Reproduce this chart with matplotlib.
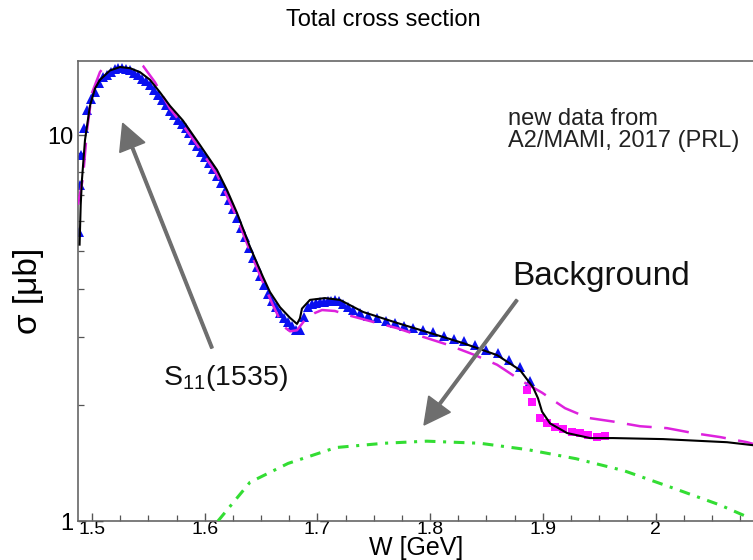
import matplotlib
matplotlib.use("Agg")
import matplotlib.pyplot as plt
from matplotlib.ticker import MultipleLocator, FuncFormatter, LogLocator, NullFormatter, FixedLocator
from matplotlib.patches import FancyArrow
from matplotlib.transforms import IdentityTransform

plt.rcParams['mathtext.fontset'] = 'custom'
plt.rcParams['mathtext.rm'] = 'Liberation Sans'

SANS = ['Liberation Sans', 'DejaVu Sans']

# ---- data: total cross section sigma [mub] vs W [GeV] ----
# A2/MAMI 2017 data (triangles)
w_a2 = [1.4885, 1.4893, 1.4903, 1.4925, 1.4955, 1.4990, 1.5025, 1.5060, 1.5095, 1.5130,
        1.5165, 1.5200, 1.5235, 1.5270, 1.5305, 1.5340, 1.5375, 1.5410, 1.5445, 1.5480,
        1.5515, 1.5550, 1.5585, 1.5620, 1.5655, 1.5690, 1.5725, 1.5760, 1.5795, 1.5830,
        1.5865, 1.5900, 1.5935, 1.5970, 1.6005, 1.6040, 1.6075, 1.6110, 1.6145, 1.6180,
        1.6215, 1.6250, 1.6285, 1.6320, 1.6355, 1.6390, 1.6425, 1.6460, 1.6495, 1.6530,
        1.6565, 1.6600, 1.6635, 1.6670, 1.6705, 1.6740, 1.6775, 1.6810, 1.6845, 1.6880,
        1.6915, 1.6950, 1.6985, 1.7020, 1.7055, 1.7090, 1.7125, 1.7160, 1.7195, 1.7230,
        1.7270, 1.7320, 1.7380, 1.7450, 1.7530, 1.7610, 1.7690, 1.7770, 1.7850, 1.7940,
        1.8030, 1.8120, 1.8210, 1.8300, 1.8400, 1.8500, 1.8600, 1.8700, 1.8800, 1.8890]
s_a2 = [5.6, 7.4, 8.9, 10.4, 11.6, 12.4, 12.9, 13.6, 14.1, 14.3,
        14.6, 14.8, 14.9, 14.9, 14.8, 14.7, 14.5, 14.3, 14.0, 13.8,
        13.5, 13.1, 12.7, 12.35, 11.95, 11.55, 11.25, 10.95, 10.65, 10.4,
        10.1, 9.7, 9.35, 9.05, 8.75, 8.45, 8.15, 7.85, 7.5, 7.15,
        6.8, 6.45, 6.1, 5.75, 5.45, 5.1, 4.8, 4.55, 4.3, 4.08,
        3.88, 3.72, 3.58, 3.45, 3.35, 3.28, 3.2, 3.12, 3.12, 3.38,
        3.58, 3.64, 3.68, 3.7, 3.7, 3.72, 3.72, 3.74, 3.72, 3.66,
        3.58, 3.52, 3.45, 3.4, 3.36, 3.3, 3.25, 3.2, 3.16, 3.12,
        3.08, 3.02, 2.97, 2.92, 2.86, 2.78, 2.72, 2.62, 2.5, 2.3]

# higher-energy data (squares)
w_hi = [1.8860, 1.8904, 1.8975, 1.9037, 1.9108, 1.9180, 1.9260, 1.9330, 1.9400, 1.9480, 1.9550]
s_hi = [2.18, 2.03, 1.85, 1.79, 1.75, 1.73, 1.70, 1.69, 1.67, 1.65, 1.66]

# full model (solid)
w_fit = [1.4890, 1.4900, 1.4911, 1.4938, 1.4982, 1.5027, 1.5071, 1.5160, 1.5248, 1.5337,
         1.5426, 1.5515, 1.5603, 1.5692, 1.5807, 1.5958, 1.6109, 1.6198, 1.6287, 1.6402,
         1.6517, 1.6579, 1.6668, 1.6757, 1.6819, 1.6845, 1.6863, 1.6934, 1.7067, 1.7200,
         1.7405, 1.7706, 1.8000, 1.8292, 1.8594, 1.8798, 1.8913, 1.8957, 1.8993, 1.9064,
         1.9215, 1.9419, 1.9623, 2.0067, 2.0634, 2.0880]
s_fit = [5.2, 6.6, 7.65, 9.7, 11.9, 13.2, 13.9, 14.7, 15.0, 14.9,
         14.55, 13.9, 12.9, 11.9, 10.9, 9.42, 8.12, 7.2, 6.28, 5.13,
         4.29, 3.92, 3.58, 3.36, 3.24, 3.35, 3.55, 3.74, 3.78, 3.74,
         3.48, 3.26, 3.07, 2.89, 2.69, 2.46, 2.22, 2.08, 1.92, 1.79,
         1.69, 1.64, 1.64, 1.63, 1.60, 1.57]

# earlier model (dashed)
w_old = [1.4876, 1.4920, 1.4956, 1.5000, 1.5071, 1.5160, 1.5266, 1.5355, 1.5453, 1.5559,
         1.5692, 1.5807, 1.5958, 1.6109, 1.6287, 1.6402, 1.6517, 1.6610, 1.6695, 1.6757,
         1.6819, 1.6890, 1.6979, 1.7041, 1.7156, 1.7263, 1.7493, 1.7706, 1.7937, 1.8159,
         1.8398, 1.8594, 1.8798, 1.8993, 1.9197, 1.9401, 1.9623, 1.9862, 2.0102, 2.0333,
         2.0572, 2.0812, 2.0880]
s_old = [6.6, 7.74, 10.3, 12.85, 14.56, 15.64, 16.1, 15.9, 15.1, 13.7,
         11.7, 10.6, 9.2, 7.9, 6.1, 5.0, 4.15, 3.6, 3.2, 3.1,
         3.12, 3.32, 3.46, 3.52, 3.50, 3.42, 3.28, 3.16, 3.0, 2.86,
         2.69, 2.54, 2.32, 2.15, 1.96, 1.85, 1.81, 1.76, 1.74, 1.69,
         1.65, 1.60, 1.58]

# background contribution (dash-dot)
w_bg = [1.6118, 1.6402, 1.6740, 1.7165, 1.7590, 1.7970, 1.8443, 1.8869, 1.9295, 1.9720,
        2.0146, 2.0572, 2.0830]
s_bg = [1.0, 1.26, 1.41, 1.55, 1.59, 1.61, 1.59, 1.53, 1.45, 1.35,
        1.22, 1.10, 1.02]

x_ticks = [1.5, 1.6, 1.7, 1.8, 1.9, 2.0]
y_ticks = [1, 10]

W_PX, H_PX = 753, 560
fig = plt.figure(figsize=(W_PX / 100, H_PX / 100), dpi=100)
ax = fig.add_axes([78 / W_PX, 1 - 521 / H_PX, (754.5 - 78) / W_PX, 460 / H_PX])

ax.plot(w_a2, s_a2, ls='none', marker='^', ms=6.5, color='#0a10f0', mew=0, zorder=2)
ax.plot(w_hi, s_hi, ls='none', marker='s', ms=6, color='#ff10ff', mew=0, zorder=2)
ax.plot(w_old, s_old, color='#dd22dd', lw=1.8, dashes=(10, 5), zorder=3)
ax.plot(w_fit, s_fit, color='black', lw=1.5, zorder=4)
ax.plot(w_bg, s_bg, color='#33dd33', lw=2.2, dashes=(3.5, 2.5, 1, 2.5), zorder=4)

ax.set_yscale('log')
ax.set_xlim(1.4876, 2.0878)
ax.set_ylim(1, 15.55)

ax.xaxis.set_major_locator(FixedLocator(x_ticks))
ax.xaxis.set_minor_locator(MultipleLocator(0.025))
ax.xaxis.set_major_formatter(FuncFormatter(lambda v, p: '%g' % v))
ax.yaxis.set_major_locator(FixedLocator(y_ticks))
ax.yaxis.set_minor_locator(LogLocator(base=10, subs=range(2, 10)))
ax.yaxis.set_major_formatter(FuncFormatter(lambda v, p: '%g' % v))
ax.yaxis.set_minor_formatter(NullFormatter())

ax.tick_params(which='both', direction='in', color='#555555', top=False, right=False)
ax.tick_params(which='major', length=6, width=1.0)
ax.tick_params(which='minor', length=4, width=0.9)
ax.tick_params(axis='x', which='major', pad=0)
ax.tick_params(axis='y', which='major', pad=3)
for lab in ax.get_xticklabels():
    lab.set_family(SANS)
    lab.set_fontsize(14)
for lab in ax.get_yticklabels():
    lab.set_family(SANS)
    lab.set_fontsize(17)
for sp in ax.spines.values():
    sp.set_color('#666666')
    sp.set_linewidth(1.2)
ax.spines['right'].set_visible(False)

fig.text(383 / W_PX, 1 - 20 / H_PX, 'Total cross section', ha='center', va='center',
         family=SANS, fontsize=17)
fig.text(416 / W_PX, 1 - 555.5 / H_PX, 'W [GeV]', ha='center', va='baseline',
         family=SANS, fontsize=18)
fig.text(28 / W_PX, 1 - 291 / H_PX, 'σ [μb]', ha='center', va='center', rotation=90,
         family=SANS, fontsize=24)

fig.text(508 / W_PX, 1 - 125 / H_PX, 'new data from', ha='left', va='baseline',
         family=SANS, fontsize=17, color='#222222')
fig.text(508 / W_PX, 1 - 147 / H_PX, 'A2/MAMI, 2017 (PRL)', ha='left', va='baseline',
         family=SANS, fontsize=17, color='#222222')
fig.text(512 / W_PX, 1 - 285 / H_PX, 'Background', ha='left', va='baseline',
         family=SANS, fontsize=24, color='#111111')
fig.text(163 / W_PX, 1 - 385 / H_PX, r'S$_{\mathregular{11}}$(1535)', ha='left', va='baseline',
         family=SANS, fontsize=20.5, color='#111111')

# annotation arrows, in output pixels (y measured from the top)
def px_arrow(x0, y0, x1, y1):
    arr = FancyArrow(x0, H_PX - y0, x1 - x0, -(y1 - y0), width=2.6, head_width=27,
                     head_length=26, length_includes_head=True, color='#6e6e6e',
                     transform=IdentityTransform(), zorder=10)
    fig.add_artist(arr)

px_arrow(212, 348, 122.7, 123.3)
px_arrow(517, 300, 424, 425)

fig.savefig('out.png', dpi=100)
